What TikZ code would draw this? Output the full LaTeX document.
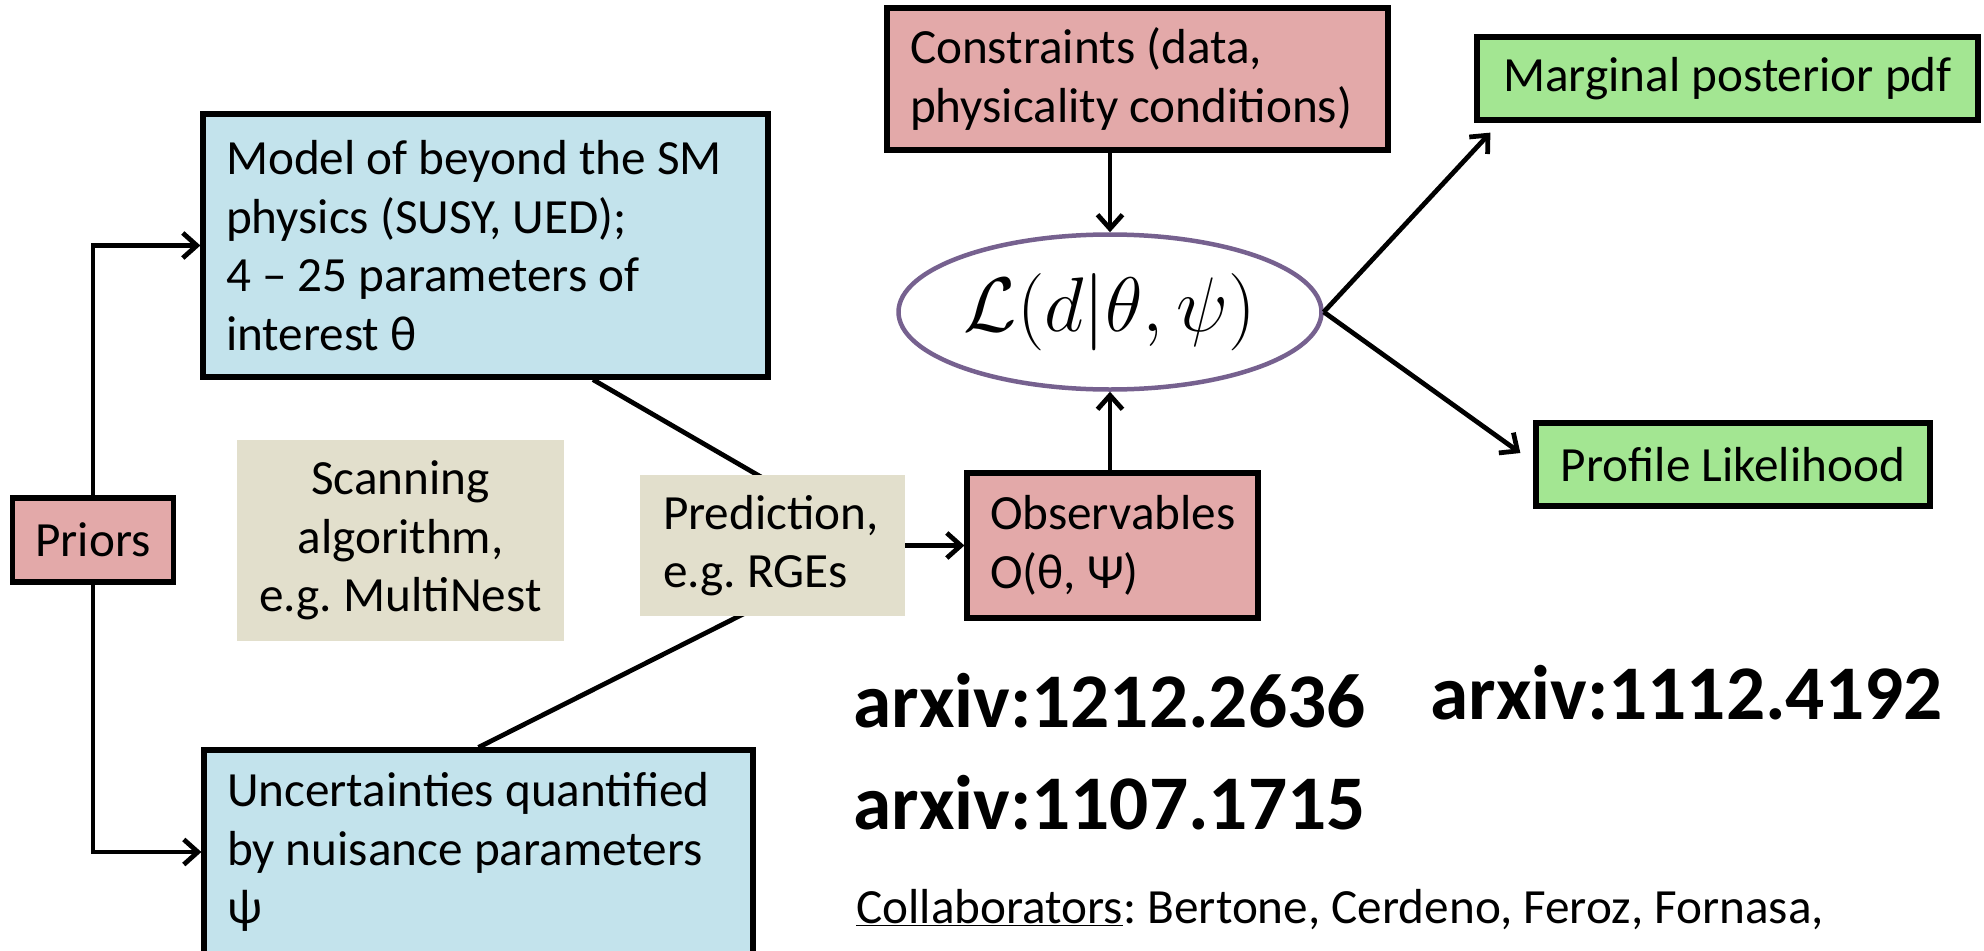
\RequirePackage{fix-cm}
\documentclass[tikz,border=0pt]{standalone}
\usepackage{fontspec}
\setmainfont{Carlito}
\usepackage{xcolor}
\usepackage{tikz}
\usetikzlibrary{arrows.meta, positioning, calc, shapes.geometric, backgrounds}
\frenchspacing

\definecolor{pinkfill}{HTML}{E3A9A9}
\definecolor{bluefill}{HTML}{C3E3EC}
\definecolor{tanfill}{HTML}{E2DFCC}
\definecolor{greenfill}{HTML}{A3E692}
\definecolor{ovalline}{HTML}{76618F}

\begin{document}
\begin{tikzpicture}[
    font=\fontsize{28}{33.3}\selectfont,
    blok/.style={inner xsep=0.46cm, inner ysep=0.2cm, align=flush left},
    blokpink/.style={blok, draw, line width=0.105cm, fill=pinkfill},
    blokblue/.style={blok, draw, line width=0.105cm, fill=bluefill},
    blokgreen/.style={blok, draw, line width=0.105cm, fill=greenfill},
    bloktan/.style={blok, fill=tanfill},
    oval/.style={ellipse, draw=ovalline, line width=0.09cm, fill=white,
                 minimum width=8.46cm, minimum height=3.1cm, inner sep=0pt,
                 font=\fontsize{44}{48}\selectfont},
    ref/.style={anchor=base west, inner sep=0pt,
                font=\fontsize{44}{50}\selectfont\bfseries},
    garis/.style={line width=0.095cm},
    arr/.style={garis, -{Straight Barb[length=0.28cm, width=0.5cm]}}
  ]
    \useasboundingbox (0,0) rectangle (39.68,-19.02);
    \node[blokpink, minimum width=3.2cm, minimum height=1.68cm] (priors) at (1.86,-10.8) {Priors};
    \node[blokblue, text width=10.38cm, minimum height=5.26cm] (model) at (9.71,-4.91)
      {Model of beyond the SM\\physics (SUSY, UED);\\4 – 25 parameters of\\interest θ};
    \node[blokblue, text width=10.06cm, minimum height=4.08cm] (unc) at (9.57,-17.04)
      {Uncertainties quantified\\by nuisance parameters\\ψ};
    \node[bloktan, inner xsep=0.12cm, text width=6.3cm, align=flush center, minimum height=4.02cm] (scan) at (8.01,-10.81)
      {Scanning\\algorithm,\\e.g. MultiNest};
    \node[bloktan, text width=4.38cm, minimum height=2.82cm] (pred) at (15.45,-10.91)
      {Prediction,\\e.g. RGEs};
    \node[blokpink, text width=4.9cm, minimum height=2.9cm] (obs) at (22.25,-10.91)
      {Observables\\O(θ, Ψ)};
    \node[blokpink, text width=9.1cm, minimum height=2.84cm] (cons) at (22.75,-1.58)
      {Constraints (data,\\physicality conditions)};
    \node[oval] (lik) at (22.2,-6.24) {$\mathcal{L}(d|\theta,\psi)$};
    \node[blokgreen, minimum width=10.02cm, minimum height=1.66cm] (marg) at (34.55,-1.57)
      {Marginal posterior pdf};
    \node[blokgreen, minimum width=7.88cm, minimum height=1.66cm] (prof) at (34.66,-9.29)
      {Profile Likelihood};
    \node[ref] (arxa) at (17.06,-14.54) {arxiv:1212.2636};
    \node[ref] (arxb) at (28.6,-14.38) {arxiv:1112.4192};
    \node[ref] (arxc) at (17.06,-16.58) {arxiv:1107.1715};
    \node[anchor=base west, inner sep=0pt] (collab) at (17.12,-18.46)
      {\underline{Collaborators}: Bertone, Cerdeno, Feroz, Fornasa,};
    \coordinate (mix) at ([xshift=-0.52cm]pred.east);
    \begin{scope}[on background layer]
      \draw[garis] ([xshift=2.15cm]model.south) -- (mix);
      \draw[garis] (unc.north) -- (mix);
    \end{scope}
    \draw[arr] (priors.north) |- (model.west);
    \draw[arr] (priors.south) |- (unc.west);
    \draw[arr] (pred.east) -- (obs.west);
    \draw[arr] (cons.south -| lik.north) -- (lik.north);
    \draw[arr] (obs.north -| lik.south) -- (lik.south);
    \draw[arr] (lik.east) -- ([shift={(0.32,-0.2)}]marg.south west);
    \draw[arr] (lik.east) -- ([shift={(-0.26,0.23)}]prof.west);
  \end{tikzpicture}
\end{document}
